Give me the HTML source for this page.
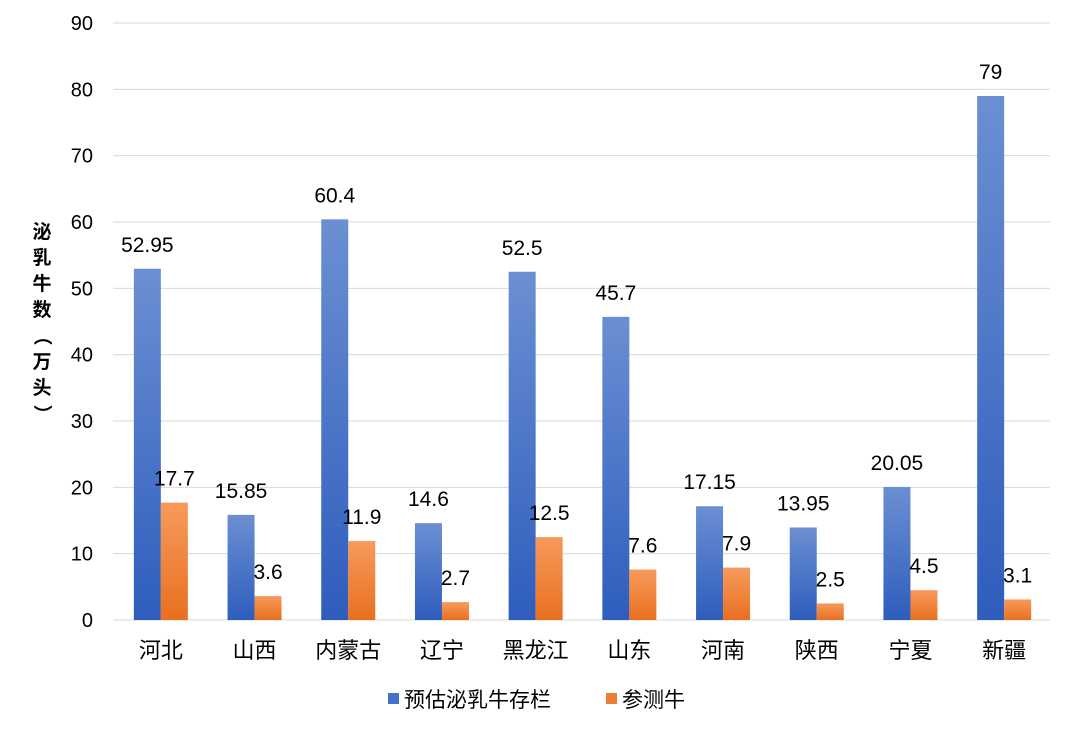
<!DOCTYPE html>
<html><head><meta charset="utf-8">
<style>
body{margin:0;background:#fff;}
svg text{font-family:"Liberation Sans","Noto Sans CJK SC",sans-serif;fill:#000;}
</style></head>
<body>
<svg id="chart" width="1072" height="731" xmlns="http://www.w3.org/2000/svg">
<defs>
<linearGradient id="gb" x1="0" y1="0" x2="0" y2="1"><stop offset="0" stop-color="#6b8fd2"/><stop offset="1" stop-color="#2e5dbd"/></linearGradient>
<linearGradient id="go" x1="0" y1="0" x2="0" y2="1"><stop offset="0" stop-color="#f79a5c"/><stop offset="1" stop-color="#e8701f"/></linearGradient>
</defs>
<g id="grid"></g><g id="bars"></g><g id="labels"></g>
<g font-size="19" font-weight="bold">
<text x="42" y="238" text-anchor="middle">泌</text>
<text x="42" y="264" text-anchor="middle">乳</text>
<text x="42" y="290" text-anchor="middle">牛</text>
<text x="42" y="316" text-anchor="middle">数</text>
<text x="42" y="342" text-anchor="middle" transform="rotate(90 42 336)">（</text>
<text x="42" y="368" text-anchor="middle">万</text>
<text x="42" y="394" text-anchor="middle">头</text>
<text x="42" y="420" text-anchor="middle" transform="rotate(90 42 414)">）</text>
</g>
<g>
<rect x="388" y="693" width="11" height="11" fill="#4472c4"/>
<text x="404" y="707" font-size="21">预估泌乳牛存栏</text>
<rect x="606" y="693" width="11" height="11" fill="#ed7d31"/>
<text x="622" y="707" font-size="21">参测牛</text>
</g>
</svg>
<script>
const categories=["河北","山西","内蒙古","辽宁","黑龙江","山东","河南","陕西","宁夏","新疆"];
const estimated=[52.95,15.85,60.4,14.6,52.5,45.7,17.15,13.95,20.05,79];
const sampled=[17.7,3.6,11.9,2.7,12.5,7.6,7.9,2.5,4.5,3.1];
const yTicks=[0,10,20,30,40,50,60,70,80,90];
const NS="http://www.w3.org/2000/svg";
const x0=113,x1=1050,yBase=620,yTop=23,yMax=90;
const y=v=>yBase-(v/yMax)*(yBase-yTop);
const band=(x1-x0)/categories.length;
const cx=i=>x0+band*(i+0.5)+1;
const bw=27;
function mk(tag,attrs,parent,txt){const e=document.createElementNS(NS,tag);for(const k in attrs)e.setAttribute(k,attrs[k]);if(txt!==undefined)e.textContent=txt;parent.appendChild(e);return e;}
const grid=document.getElementById('grid'),bars=document.getElementById('bars'),labels=document.getElementById('labels');
yTicks.forEach(t=>{
 const l=mk('line',{x1:x0,x2:x1,y1:y(t),y2:y(t),stroke:'#d9d9d9','stroke-width':1},grid);
 
 
 const tx=mk('text',{x:93,y:y(t)+7,'text-anchor':'end','font-size':20},grid,String(t));
 
 
});
categories.forEach((c,i)=>{
 const xc=cx(i);
 const b=mk('rect',{x:xc-bw,y:y(estimated[i]),width:bw,height:yBase-y(estimated[i]),fill:'url(#gb)'},bars);
 
 
 const o=mk('rect',{x:xc,y:y(sampled[i]),width:bw,height:yBase-y(sampled[i]),fill:'url(#go)'},bars);
 
 
 const lb=mk('text',{x:xc-bw/2,y:y(estimated[i])-17,'text-anchor':'middle','font-size':21},labels,String(estimated[i]));
 
 
 const lo=mk('text',{x:xc+bw/2,y:y(sampled[i])-17,'text-anchor':'middle','font-size':21},labels,String(sampled[i]));
 
 
 const cl=mk('text',{x:xc,y:658,'text-anchor':'middle','font-size':22},labels,c);
 
 
});
mk('line',{x1:x0,x2:x1,y1:yBase,y2:yBase,stroke:'#d9d9d9'},grid);
</script>
</body></html>
